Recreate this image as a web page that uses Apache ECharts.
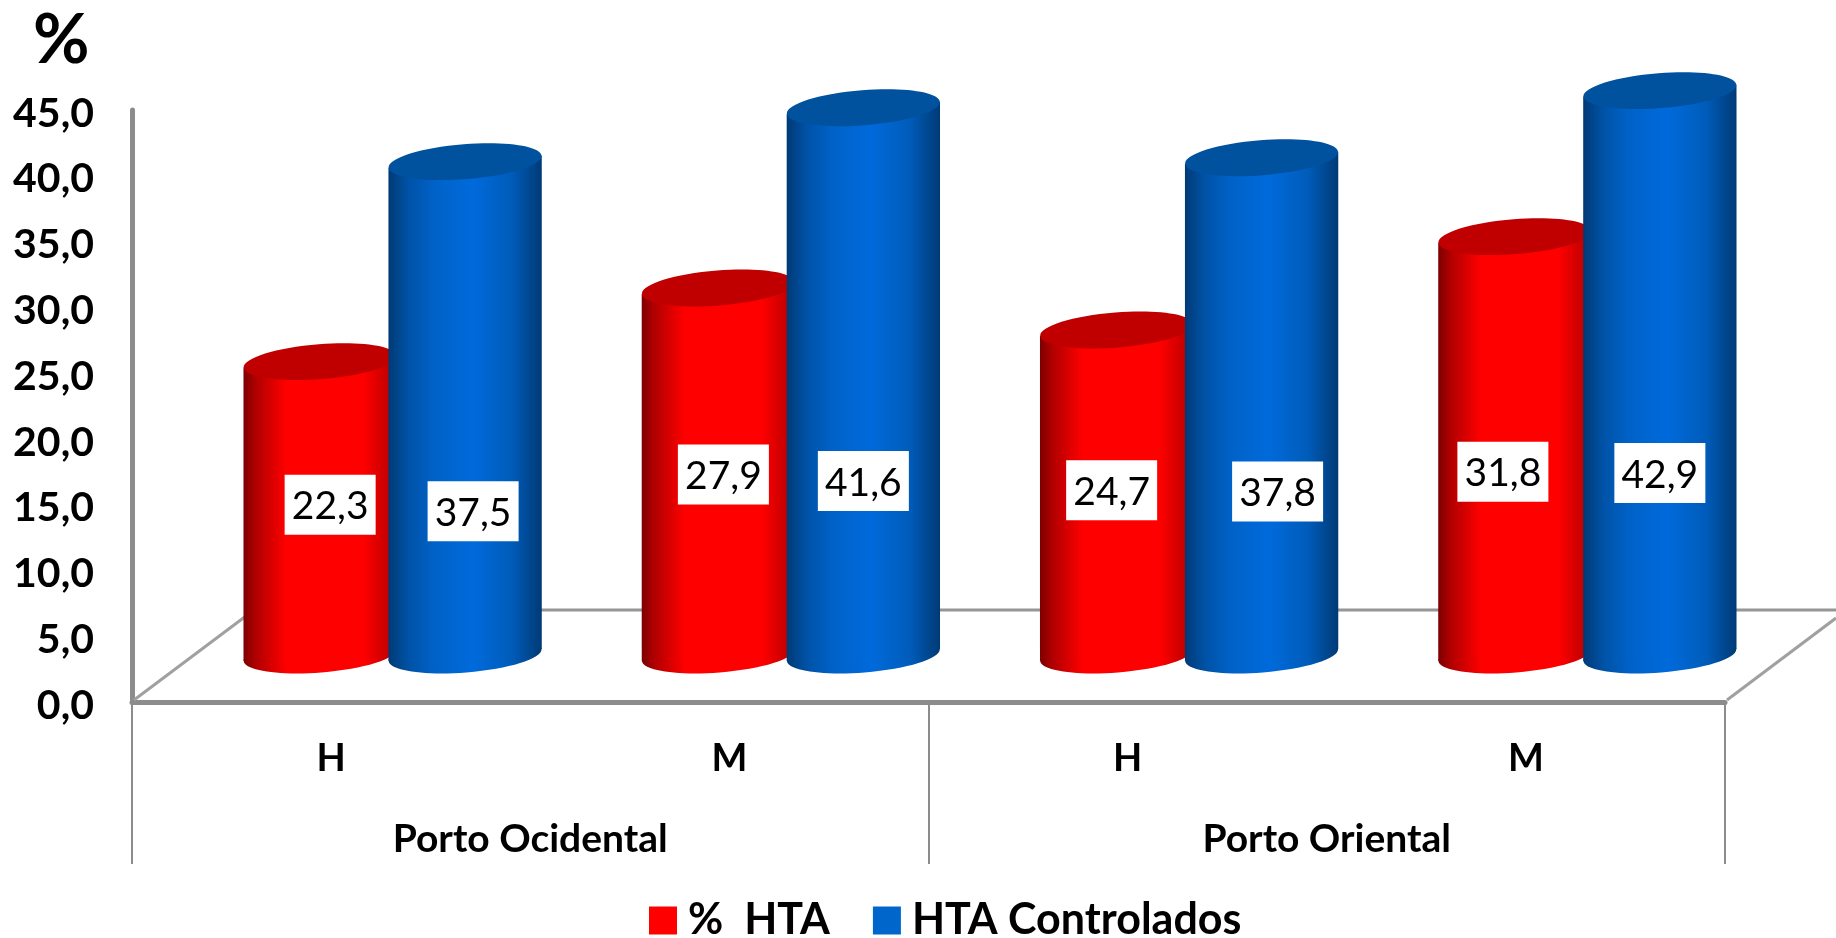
<!DOCTYPE html>
<html>
<head>
<meta charset="utf-8">
<style>html,body{margin:0;padding:0;background:#fff}#c{width:1836px;height:938px}</style>
<script src="https://cdn.jsdelivr.net/npm/echarts@6/dist/echarts.min.js"></script>
</head>
<body>
<div id="c"></div>
<script>
const sexes = ['H', 'M', 'H', 'M'];
const regions = ['Porto Ocidental', 'Porto Oriental'];
const pctHTA = [22.3, 27.9, 24.7, 31.8];
const controlados = [37.5, 41.6, 37.8, 42.9];
// Hand placed value boxes of the original: height on the value scale, x nudge in px
const pctLabelAt = [15.0, 17.3, 16.1, 17.5];
const ctrlLabelAt = [14.5, 16.8, 16.0, 17.4];
const pctLabelDx = [10, 5, -5, -12];
const ctrlLabelDx = [8, 0, 16, 0];
const FONT = 'Lato, "Noto Sans", sans-serif';
const GREY = '#8c8c8c';
const DEPTH_X = 61.5, DEPTH_Y = 47, TILT = 0.078;

function grad(stops) {
  return { type: 'linear', x: 0, y: 0, x2: 1, y2: 0, colorStops: stops };
}
const redSide = grad([{offset:0,color:'#7d0000'},{offset:0.08,color:'#b00000'},{offset:0.28,color:'#ff0000'},{offset:0.78,color:'#ff0000'},{offset:1,color:'#b00000'}]);
const blueSide = grad([{offset:0,color:'#003a75'},{offset:0.13,color:'#0052a6'},{offset:0.3,color:'#0062c8'},{offset:0.55,color:'#006adb'},{offset:0.8,color:'#005cba'},{offset:1,color:'#003a75'}]);

function cylinder(side, topColor, step, labelAt, labelDx) {
  return function (params, api) {
    const i = api.value(0), v = api.value(1);
    const band = api.size([1, 0])[0];
    const w = band * 0.385, rx = w / 2, ry = 17.5, d = rx * Math.sin(TILT);
    const p0 = api.coord([i, 0]), p1 = api.coord([i, v]);
    const cx = p0[0] + DEPTH_X + step * band;
    const yb = p0[1] - DEPTH_Y, yt = p1[1] - DEPTH_Y;
    const ly = api.coord([i, labelAt[params.dataIndex]])[1];
    const lx = cx + labelDx[params.dataIndex];
    return { type: 'group', children: [
      { type: 'ellipse', shape: {cx, cy: yb, rx, ry}, rotation: TILT, originX: cx, originY: yb, style: {fill: side} },
      { type: 'polygon', shape: {points: [[cx-rx, yt+d],[cx+rx, yt-d],[cx+rx, yb-d],[cx-rx, yb+d]]}, style: {fill: side} },
      { type: 'ellipse', shape: {cx, cy: yt, rx, ry}, rotation: TILT, originX: cx, originY: yt, style: {fill: topColor} },
      { type: 'rect', shape: {x: lx-45.5, y: ly-30, width: 91, height: 60}, style: {fill: '#fff'} },
      { type: 'text', style: {x: lx, y: ly + 2, text: v.toFixed(1).replace('.', ','), align: 'center', verticalAlign: 'middle', font: '39px ' + FONT, fill: '#000'} }
    ]};
  };
}

function floor(params, api) {
  const s = params.coordSys;
  const L = s.x, R = s.x + s.width, B = s.y + s.height;
  const line = (x1, y1, x2, y2, c) => ({ type: 'line', shape: {x1, y1, x2, y2}, style: {stroke: c || GREY, lineWidth: 3} });
  return { type: 'group', silent: true, children: [
    line(L + 120, B - 92, 1836, B - 92, '#969696'),
    line(L + 2, B - 2, L + 114, B - 86, '#a0a0a0'),
    line(R + 2, B - 2, 1836, B - 84, '#a0a0a0')
  ]};
}

const chart = echarts.init(document.getElementById('c'), null, {renderer: 'canvas'});
chart.setOption({
  animation: false,
  backgroundColor: '#fff',
  title: { text: '%', left: 28, top: 1, textStyle: {fontFamily: FONT, fontWeight: 'bold', fontSize: 69, color: '#000'} },
  legend: {
    left: 644, top: 894, itemGap: 43, itemWidth: 28, itemHeight: 28, icon: 'rect',
    data: ['%  HTA', 'HTA Controlados'],
    textStyle: {fontFamily: FONT, fontWeight: 'bold', fontSize: 43, color: '#000', padding: [0, 0, 0, 6]}
  },
  grid: { left: 132, top: 110, width: 1593, height: 592 },
  xAxis: [
    { type: 'category', data: sexes, position: 'bottom',
      axisLine: {lineStyle: {color: GREY, width: 5}}, axisTick: {show: false},
      axisLabel: {margin: 38, fontFamily: FONT, fontWeight: 'bold', fontSize: 38, color: '#000'} },
    { type: 'category', data: regions, position: 'bottom',
      axisLine: {show: false},
      axisTick: {show: true, length: 162, lineStyle: {color: GREY, width: 2}},
      axisLabel: {margin: 118, fontFamily: FONT, fontWeight: 'bold', fontSize: 39, color: '#000'} }
  ],
  yAxis: { type: 'value', min: 0, max: 45, interval: 5,
    axisLine: {show: true, lineStyle: {color: GREY, width: 5}}, axisTick: {show: false}, splitLine: {show: false},
    axisLabel: {margin: 38, color: '#000',
      formatter: v => '{t|' + v.toFixed(1).replace('.', ',') + '}',
      rich: {t: {fontFamily: FONT, fontWeight: 'bold', fontSize: 41, color: '#000', padding: [7, 0, 0, 0]}}} },
  series: [
    { type: 'custom', name: 'floor', renderItem: floor, data: [[0, 0]], encode: {x: 0, y: 1}, silent: true, clip: false, z: 1 },
    { type: 'custom', name: '%  HTA', renderItem: cylinder(redSide, '#c00000', -0.182, pctLabelAt, pctLabelDx),
      data: pctHTA.map((v, i) => [i, v]), encode: {x: 0, y: 1}, itemStyle: {color: '#ff0000'}, clip: false, z: 2 },
    { type: 'custom', name: 'HTA Controlados', renderItem: cylinder(blueSide, '#00529f', 0.182, ctrlLabelAt, ctrlLabelDx),
      data: controlados.map((v, i) => [i, v]), encode: {x: 0, y: 1}, itemStyle: {color: '#0066cc'}, clip: false, z: 3 }
  ]
});
</script>
</body>
</html>
